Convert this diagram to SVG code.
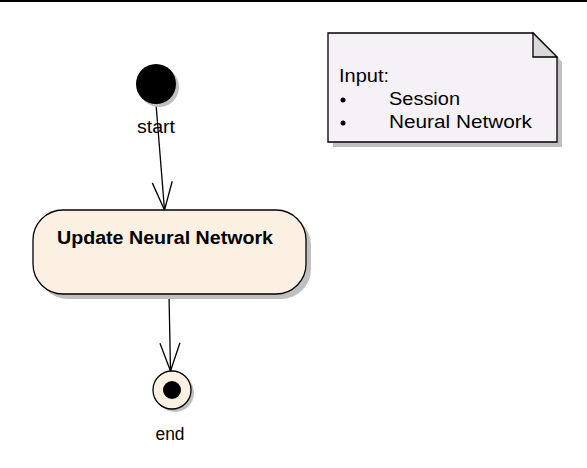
<svg xmlns="http://www.w3.org/2000/svg" width="587" height="468" viewBox="0 0 587 468">
<defs>
<style>
text{font-family:"Liberation Sans",Arial,sans-serif;fill:#000}
.lbl{font-size:18px}
.edge{stroke:#000;stroke-width:1.3;fill:none}
.shadow{fill:#c0c0c0;stroke:none}
</style>
<marker id="open" markerWidth="32" markerHeight="24" refX="29" refY="11" orient="auto" markerUnits="userSpaceOnUse" viewBox="0 0 32 24">
<path d="M1,1 L29,11 L1,21" fill="none" stroke="#000" stroke-width="1.3"/>
</marker>
</defs>
<rect width="587" height="468" fill="#fff"/>
<line x1="0" y1="1" x2="587" y2="1" stroke="#000" stroke-width="2"/>
<g id="connectors">
<line class="edge" x1="156" y1="104" x2="164.5" y2="210" marker-end="url(#open)"/>
<line class="edge" x1="169" y1="294" x2="170.5" y2="371" marker-end="url(#open)"/>
</g>
<g id="start">
<circle class="shadow" cx="159" cy="87" r="20"/>
<circle cx="156" cy="84" r="20" fill="#000"/>
<text class="lbl" x="156" y="133" text-anchor="middle" textLength="38" lengthAdjust="spacingAndGlyphs">start</text>
</g>
<g id="action">
<rect class="shadow" x="38" y="215" width="273" height="84" rx="30" ry="30"/>
<rect x="33" y="210" width="273" height="84" rx="30" ry="30" fill="#fbf0e2" stroke="#000" stroke-width="1.3"/>
<text x="57" y="244" font-size="18" font-weight="bold" textLength="216" lengthAdjust="spacingAndGlyphs">Update Neural Network</text>
</g>
<g id="end">
<circle class="shadow" cx="175" cy="393" r="19"/>
<circle cx="172" cy="390" r="19" fill="#fbf0e2" stroke="#000" stroke-width="1.3"/>
<circle cx="172" cy="390" r="9" fill="#000"/>
<text class="lbl" x="170" y="440" text-anchor="middle" textLength="29" lengthAdjust="spacingAndGlyphs">end</text>
</g>
<g id="note">
<polygon class="shadow" points="333,38 538,38 562,62 562,147 333,147"/>
<polygon points="328,33 533,33 557,57 557,142 328,142" fill="#f6f1f6" stroke="#000" stroke-width="1.3"/>
<polygon points="533,33 557,57 533,57" fill="#d9d9d9" stroke="#000" stroke-width="1.3"/>
<text class="lbl" x="339" y="82" textLength="50" lengthAdjust="spacingAndGlyphs">Input:</text>
<circle cx="343" cy="100" r="2.5" fill="#000"/>
<text class="lbl" x="389" y="105" textLength="71" lengthAdjust="spacingAndGlyphs">Session</text>
<circle cx="343" cy="123" r="2.5" fill="#000"/>
<text class="lbl" x="389" y="128" textLength="143" lengthAdjust="spacingAndGlyphs">Neural Network</text>
</g>
</svg>
